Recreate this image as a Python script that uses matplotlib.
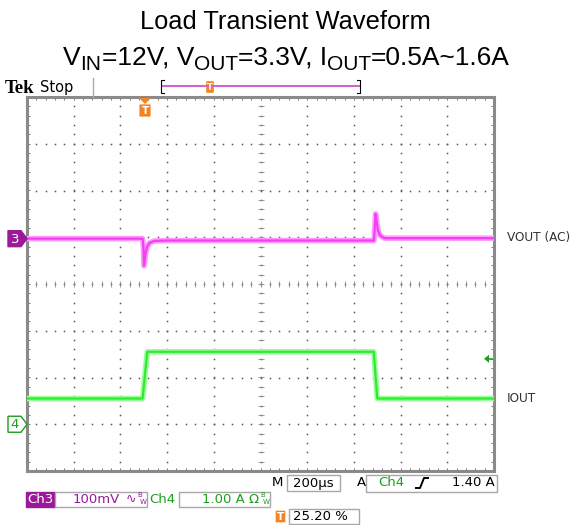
import matplotlib
matplotlib.use("Agg")
import matplotlib.pyplot as plt
import numpy as np
from matplotlib.patches import Rectangle, Polygon, FancyBboxPatch

# --- data ---
TIME_PER_DIV = 200.0      # us
CH3_SCALE = 100.0         # mV / div
CH4_SCALE = 1.0           # A / div
CH3_POS = 0.97            # div
CH4_POS = -3.0            # div
TRIG_LEVEL = 1.40         # A

vout_t = [0, 495, 499, 501, 504, 508, 514, 525, 545, 600, 1486, 1490, 1493, 1497, 1503, 1512, 1530, 2000]
vout_mv = [0, 0, -20, -58, -48, -32, -18, -9, -5, -4, -4, 28, 53, 38, 18, 7, 1, 1]

iout_t = [0, 495, 515, 1485, 1500, 2000]
iout_a = [0.55, 0.55, 1.55, 1.55, 0.55, 0.55]

title_line1 = "Load Transient Waveform"
# (text, is_subscript)
title_line2 = [("V", False), ("IN", True), ("=12V, V", False), ("OUT", True),
               ("=3.3V, I", False), ("OUT", True), ("=0.5A~1.6A", False)]

W, H = 571, 525
SCR_L, SCR_R, SCR_T, SCR_B = 27, 494, 97, 471

MAGENTA = "#f040f0"
MAGENTA_LT = "#ff99ff"
GREEN = "#33e833"
GREEN_LT = "#99ff99"
PURPLE = "#9a1a9a"
CH4_TXT = "#1e9e1e"
ORANGE = "#f58220"
GREY = "#8a8a8a"

fig = plt.figure(figsize=(W / 100, H / 100), dpi=100)

# screen axes in division units
ax = fig.add_axes([SCR_L / W, 1 - SCR_B / H, (SCR_R - SCR_L) / W, (SCR_B - SCR_T) / H])
ax.set_xlim(0, 10)
ax.set_ylim(-4, 4)
ax.set_xticks([])
ax.set_yticks([])
for sp in ax.spines.values():
    sp.set_color(GREY)
    sp.set_linewidth(2.2)

# graticule dots
minor = np.arange(0, 10.01, 0.2)
minor_y = np.arange(-4, 4.01, 0.2)
for gx in range(1, 10):
    ax.plot(np.full_like(minor_y, gx), minor_y, ls="none", marker="s", ms=1.1, color="#555555", mew=0)
for gy in range(-3, 4):
    ax.plot(minor, np.full_like(minor, gy), ls="none", marker="s", ms=1.1, color="#555555", mew=0)
# centre crosshair ticks
ax.plot(minor, np.zeros_like(minor), ls="none", marker="|", ms=4, color="#888888", mew=0.6)
ax.plot(np.full_like(minor_y, 5), minor_y, ls="none", marker="_", ms=4, color="#888888", mew=0.6)
# border ticks
ax.plot(minor, np.full_like(minor, 4), ls="none", marker="|", ms=5, color="#777777", mew=0.7)
ax.plot(minor, np.full_like(minor, -4), ls="none", marker="|", ms=5, color="#777777", mew=0.7)
ax.plot(np.zeros_like(minor_y), minor_y, ls="none", marker="_", ms=5, color="#777777", mew=0.7)
ax.plot(np.full_like(minor_y, 10), minor_y, ls="none", marker="_", ms=5, color="#777777", mew=0.7)

# traces
vt = np.array(vout_t) / TIME_PER_DIV
vy = CH3_POS + np.array(vout_mv) / CH3_SCALE
it = np.array(iout_t) / TIME_PER_DIV
iy = CH4_POS + np.array(iout_a) / CH4_SCALE
ax.plot(vt, vy, color=MAGENTA_LT, lw=4.0, solid_joinstyle="round", zorder=3)
ax.plot(vt, vy, color=MAGENTA, lw=1.6, zorder=4)
ax.plot(it, iy, color=GREEN_LT, lw=4.0, solid_joinstyle="round", zorder=3)
ax.plot(it, iy, color=GREEN, lw=1.6, zorder=4)

# overlay in pixel coordinates
ov = fig.add_axes([0, 0, 1, 1], facecolor="none")
ov.set_xlim(0, W)
ov.set_ylim(H, 0)
ov.axis("off")

ov.text(W / 2, 22, title_line1, fontsize=18.3, family="Liberation Sans", ha="center", va="center")

# second title line, built piece by piece so the subscripts can be sized freely
renderer = fig.canvas.get_renderer()
MAIN_FS, SUB_FS = 19.0, 15.0
pieces = []
for txt, sub in title_line2:
    t = ov.text(0, 70 if sub else 58, txt, fontsize=SUB_FS if sub else MAIN_FS,
                family="Liberation Sans", ha="left", va="baseline" if sub else "center")
    pieces.append(t)
widths = [p.get_window_extent(renderer).width for p in pieces]
x = W / 2 - sum(widths) / 2 + 1
for p, w in zip(pieces, widths):
    p.set_x(x)
    x += w

# header
ov.text(5, 93, "Tek", fontsize=13.5, family="Liberation Serif", weight="bold", ha="left", va="baseline")
ov.text(40, 92, "Stop", fontsize=10.5, family="DejaVu Sans", ha="left", va="baseline")
ov.plot([93, 93], [78, 97], color="#aaaaaa", lw=1)
ov.plot([162, 359], [86, 86], color="#cc66cc", lw=1.5)
ov.plot([164, 161, 161, 164], [80, 80, 93, 93], color="black", lw=0.8)
ov.plot([357, 360, 360, 357], [80, 80, 93, 93], color="black", lw=0.8)
ov.add_patch(FancyBboxPatch((207, 82), 6, 10, boxstyle="round,pad=0.8", fc=ORANGE, ec="none"))
ov.text(210, 87.5, "T", fontsize=6, color="white", weight="bold", ha="center", va="center")

# trigger position marker
ov.add_patch(Polygon([[139, 98], [151, 98], [145, 104]], closed=True, fc=ORANGE, ec="none"))
ov.add_patch(FancyBboxPatch((140, 105), 10, 11, boxstyle="round,pad=0.6", fc=ORANGE, ec="none"))
ov.text(145, 110.8, "T", fontsize=7.5, color="white", weight="bold", ha="center", va="center")

# channel markers
y3 = 284 - CH3_POS * 46.75
ov.add_patch(Polygon([[8, y3 - 8], [21, y3 - 8], [27, y3], [21, y3 + 8], [8, y3 + 8]], closed=True, fc=PURPLE, ec=PURPLE))
ov.text(15, y3 + 0.5, "3", fontsize=9.5, color="white", ha="center", va="center", family="DejaVu Sans")
y4 = 284 - CH4_POS * 46.75
ov.add_patch(Polygon([[8, y4 - 8], [21, y4 - 8], [27, y4], [21, y4 + 8], [8, y4 + 8]], closed=True, fc="white", ec=CH4_TXT, lw=1))
ov.text(15, y4 + 0.5, "4", fontsize=9.5, color=CH4_TXT, ha="center", va="center", family="DejaVu Sans")

# trigger level arrow
yt = 284 - (CH4_POS + TRIG_LEVEL / CH4_SCALE) * 46.75
ov.add_patch(Polygon([[484, yt], [489, yt - 4], [489, yt + 4]], closed=True, fc=CH4_TXT, ec="none"))
ov.plot([488, 492], [yt, yt], color=CH4_TXT, lw=1.2)

# right labels
ov.text(507, y3 - 1, "VOUT (AC)", fontsize=8.7, color="#333333", ha="left", va="center", family="DejaVu Sans")
ov.text(507, 284 - (CH4_POS + iout_a[0]) * 46.75, "IOUT", fontsize=8.7, color="#333333", ha="left", va="center",
        family="DejaVu Sans")

# readouts
def box(x0, y0, x1, y1, fc="white", ec="#a8a8a8"):
    ov.add_patch(Rectangle((x0, y0), x1 - x0, y1 - y0, fc=fc, ec=ec, lw=1))

rd = dict(fontsize=9.5, family="DejaVu Sans", va="center")
ov.text(277, 483, "M", ha="center", **rd)
box(287, 475, 340, 491)
ov.text(313.5, 483, "200\u00b5s", ha="center", **rd)
ov.text(361, 483, "A", ha="center", **rd)
box(366, 475, 497, 492)
ov.text(378, 483, "Ch4", ha="left", color=CH4_TXT, **rd)
ov.plot([416, 420, 424, 428], [488, 488, 478, 478], color="black", lw=1.4)
ov.text(495, 483, "1.40 A", ha="right", **rd)

box(26, 492, 55, 507, fc=PURPLE, ec=PURPLE)
ov.text(40.5, 499.5, "Ch3", ha="center", color="white", **rd)
box(55, 492, 147, 507)
ov.text(120, 499.5, "100mV", ha="right", color=PURPLE, **rd)
ov.text(126, 499.5, "\u223f", ha="left", color=PURPLE, fontsize=9, family="DejaVu Sans", va="center")
ov.text(137, 495, "B", ha="left", color=PURPLE, fontsize=5, family="DejaVu Sans", va="center")
ov.text(140, 502, "W", ha="left", color=PURPLE, fontsize=5, family="DejaVu Sans", va="center")
ov.text(149, 499.5, "Ch4", ha="left", color=CH4_TXT, **rd)
box(179, 492, 270, 507)
ov.text(259, 499.5, "1.00 A \u03a9", ha="right", color=CH4_TXT, **rd)
ov.text(260, 495, "B", ha="left", color=CH4_TXT, fontsize=5, family="DejaVu Sans", va="center")
ov.text(263, 502, "W", ha="left", color=CH4_TXT, fontsize=5, family="DejaVu Sans", va="center")

ov.add_patch(FancyBboxPatch((276, 511), 9, 11, boxstyle="round,pad=0.3", fc=ORANGE, ec="none"))
ov.text(280.5, 516.5, "T", fontsize=7.5, color="white", weight="bold", ha="center", va="center")
box(289, 509, 359, 524)
ov.text(293, 516.5, "25.20 %", ha="left", **rd)

fig.savefig("out.png", dpi=100)
